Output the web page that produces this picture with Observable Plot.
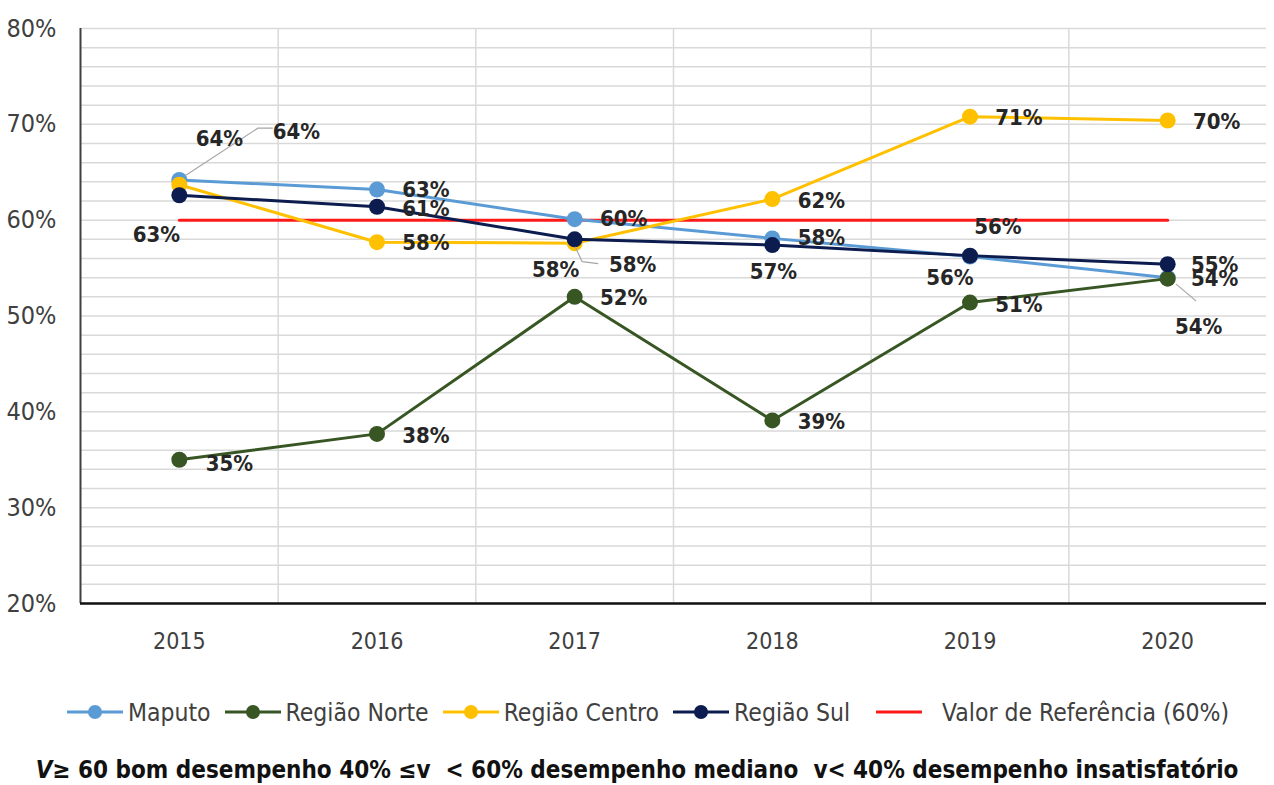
<!DOCTYPE html>
<html>
<head>
<meta charset="utf-8">
<script src="https://cdn.jsdelivr.net/npm/d3@7"></script>
<script src="https://cdn.jsdelivr.net/npm/@observablehq/plot@0.6"></script>
<style>
  body { margin: 0; background: #fff; }
  #wrap { width: 1274px; position: relative; font-family: "Liberation Sans Narrow", "DejaVu Sans Condensed", "Liberation Sans", sans-serif; }
  .legend { display: flex; justify-content: center; align-items: center; height: 64px; font-size: 24.5px; color: #404040; padding-left: 22px; }
  .legend .item { display: flex; align-items: center; margin: 0 7px; }
  .legend svg { margin-right: 5px; }
  .footer { text-align: center; font-weight: bold; font-size: 24px; color: #111; margin-top: 12px; }
</style>
</head>
<body>
<div id="wrap"></div>
<script>
// ---- data ----
const years = [2015, 2016, 2017, 2018, 2019, 2020];
const seriesNames = ["Maputo", "Região Norte", "Região Centro", "Região Sul"];
const maputo = [64.2, 63.2, 60.1, 58.1, 56.2, 54.0];
const regiaoNorte = [35.0, 37.7, 52.0, 39.1, 51.4, 53.9];
const regiaoCentro = [63.7, 57.7, 57.6, 62.2, 70.8, 70.4];
const regiaoSul = [62.6, 61.4, 58.0, 57.4, 56.3, 55.4];
const referencia = [60, 60, 60, 60, 60, 60];
const referenciaName = "Valor de Referência (60%)";
const yTicks = [20, 30, 40, 50, 60, 70, 80];

// ---- style / layout ----
const colors = ["#5B9BD5", "#375623", "#FFC000", "#0C1C4E"];
const refColor = "#FF1A1A";
// label offsets (px) relative to each point, per series
const labelOffsets = [
  [[40, -41], [49, 0], [49, 0], [49, 0], [-20, 21], [31, 49]],
  [[50, 4], [49, 2], [49, 1], [49, 1], [49, 2], [47, 0]],
  [[117, -53], [49, 1], [58, 22], [49, 2], [49, 1], [49, 1]],
  [[-23, 40], [49, 2], [-19, 31], [1, 27], [28, -29], [47, 1]]
];
// leader lines: [seriesIndex, yearIndex, relative path points]
const leaders = [
  [2, 0, [[7, -9], [79, -56], [94, -56]]],
  [2, 2, [[1, 4], [8, 19], [24, 21]]],
  [0, 5, [[9, 7], [29, 24]]]
];

const seriesValues = [maputo, regiaoNorte, regiaoCentro, regiaoSul];
const rows = [];
seriesValues.forEach((vals, s) => vals.forEach((v, i) => rows.push({series: seriesNames[s], s, i, year: years[i], value: v})));
const refRows = years.map((y, i) => ({year: y, value: referencia[i]}));
const boundaries = years.slice(1).map(y => y - 0.5);
const gridTicks = d3.range(yTicks[0], yTicks[yTicks.length - 1] + 0.001, 2);

const FONT = '"Liberation Sans Narrow", "DejaVu Sans Condensed", "Liberation Sans", sans-serif';

const marks = [
  Plot.gridY(gridTicks, {stroke: "#d9d9d9", strokeOpacity: 1, strokeWidth: 1.5}),
  Plot.gridX(boundaries, {stroke: "#d9d9d9", strokeOpacity: 1, strokeWidth: 1.5}),
  Plot.ruleX([years[0] - 0.5], {y1: yTicks[0], y2: yTicks[yTicks.length - 1], stroke: "#404040", strokeWidth: 2}),
  Plot.ruleY([yTicks[0]], {stroke: "#111", strokeWidth: 2.5}),
  Plot.axisY({ticks: yTicks, tickFormat: d => d + "%", tickSize: 0, tickPadding: 24, fontSize: 25, fill: "#404040", label: null}),
  Plot.axisX({ticks: years, tickFormat: d => String(d), tickSize: 0, tickPadding: 29, fontSize: 23, fill: "#404040", label: null}),
  Plot.line(refRows, {x: "year", y: "value", stroke: refColor, strokeWidth: 3})
];
seriesValues.forEach((vals, s) => {
  const data = rows.filter(r => r.s === s);
  marks.push(Plot.line(data, {x: "year", y: "value", stroke: colors[s], strokeWidth: 3}));
  marks.push(Plot.dot(data, {x: "year", y: "value", r: 8, fill: colors[s], stroke: "none"}));
});
// leader lines
marks.push((index, scales) => {
  const g = d3.create("svg:g").attr("fill", "none").attr("stroke", "#a6a6a6").attr("stroke-width", 1.2);
  for (const [s, i, pts] of leaders) {
    const px = scales.x(years[i]), py = scales.y(seriesValues[s][i]);
    g.append("path").attr("d", "M" + pts.map(([dx, dy]) => `${px + dx},${py + dy}`).join("L"));
  }
  return g.node();
});
rows.forEach(r => {
  const [dx, dy] = labelOffsets[r.s][r.i];
  marks.push(Plot.text([r], {x: "year", y: "value", text: d => Math.round(d.value) + "%", dx, dy,
    fontSize: 22, fontWeight: "bold", fill: "#262626"}));
});

const chart = Plot.plot({
  width: 1274,
  height: 680,
  marginLeft: 80,
  marginRight: 8,
  marginTop: 28,
  marginBottom: 77,
  style: {fontFamily: FONT, background: "#fff", overflow: "visible"},
  x: {type: "linear", domain: [years[0] - 0.5, years[years.length - 1] + 0.5], label: null},
  y: {domain: [yTicks[0], yTicks[yTicks.length - 1]], label: null},
  marks
});

const wrap = document.getElementById("wrap");
wrap.appendChild(chart);

// legend
const legend = document.createElement("div");
legend.className = "legend";
seriesNames.forEach((name, s) => {
  const it = document.createElement("div");
  it.className = "item";
  it.innerHTML = `<svg width="56" height="20"><line x1="0" y1="10" x2="56" y2="10" stroke="${colors[s]}" stroke-width="3"/><circle cx="28" cy="10" r="7" fill="${colors[s]}"/></svg><span>${name}</span>`;
  legend.appendChild(it);
});
{
  const it = document.createElement("div");
  it.className = "item";
  it.style.marginLeft = "19px";
  it.innerHTML = `<svg width="46" height="20" style="margin-right:20px"><line x1="0" y1="10" x2="46" y2="10" stroke="${refColor}" stroke-width="3"/></svg><span>${referenciaName}</span>`;
  legend.appendChild(it);
}
wrap.appendChild(legend);

const footer = document.createElement("div");
footer.className = "footer";
footer.innerHTML = "<i>V</i>≥ 60 bom desempenho 40% ≤v&nbsp; &lt; 60% desempenho mediano&nbsp; v&lt; 40% desempenho insatisfatório";
wrap.appendChild(footer);
</script>
</body>
</html>
